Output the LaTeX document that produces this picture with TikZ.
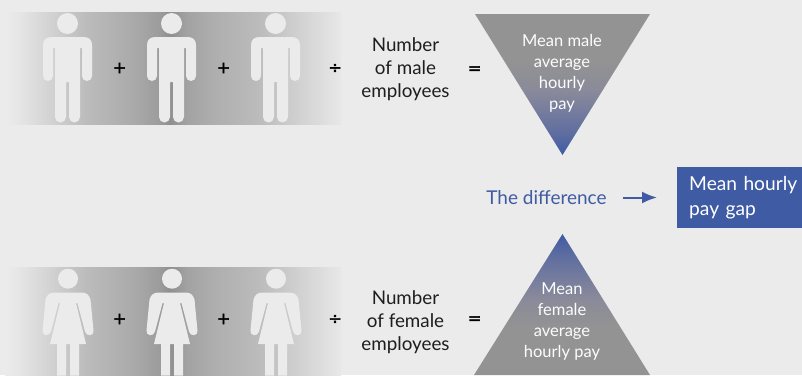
\documentclass[tikz,border=0pt]{standalone}
\usepackage{fontspec}
\usetikzlibrary{arrows.meta}
\setmainfont{Lato}
\newfontfamily\opfont[FakeBold=3]{DejaVu Sans}
\definecolor{bgc}{HTML}{EBEBEB}
\definecolor{blueC}{HTML}{3F5BA3}
\definecolor{greyC}{HTML}{939393}
\definecolor{inkC}{HTML}{1E1E1E}
\definecolor{ga}{HTML}{E6E6E6}
\definecolor{gb}{HTML}{CDCDCD}
\definecolor{gc}{HTML}{BCBCBC}
\definecolor{gd}{HTML}{AAAAAA}
\definecolor{ge}{HTML}{9C9C9C}
\definecolor{gf}{HTML}{8F8F8F}
\definecolor{gg}{HTML}{A2A2A2}
\definecolor{gh}{HTML}{AEAEAE}
\definecolor{gi}{HTML}{D2D2D2}
\definecolor{gj}{HTML}{E4E4E4}
\definecolor{gk}{HTML}{E8E8E8}
\definecolor{ma}{HTML}{5F6EA0}
\definecolor{mb}{HTML}{8A8A9A}
\pgfdeclarehorizontalshading{bandshade}{100bp}{
 color(0bp)=(bgc); color(25bp)=(bgc); color(27bp)=(ga); color(33bp)=(gb); color(37bp)=(gc); color(44bp)=(gd); color(48bp)=(ge); color(49.5bp)=(gf); color(52bp)=(gg); color(56bp)=(gh); color(63bp)=(gc); color(69bp)=(gi); color(74bp)=(gj); color(75bp)=(gk); color(100bp)=(gk)}
\pgfdeclareverticalshading{downtri}{100bp}{
 color(0bp)=(blueC); color(25bp)=(blueC); color(33bp)=(ma); color(48bp)=(mb); color(58bp)=(greyC); color(75bp)=(greyC); color(100bp)=(greyC)}
\pgfdeclareverticalshading{uptri}{100bp}{
 color(0bp)=(greyC); color(25bp)=(greyC); color(42bp)=(greyC); color(52bp)=(mb); color(67bp)=(ma); color(75bp)=(blueC); color(100bp)=(blueC)}
\tikzset{
 lab/.style={text=inkC,font=\fontsize{18.8}{23}\selectfont,align=center,inner sep=0pt},
 tri/.style={text=white!92!bgc,font=\fontsize{16.5}{21}\selectfont,align=center,inner sep=0pt},
 op/.style={text=black,font=\opfont\fontsize{16}{16}\selectfont,inner sep=0pt},
 fig/.style={fill=bgc,draw=none},
 pics/manfig/.style={code={
  \fill[fig] (0,-13.5) circle (10.5);
  \fill[fig] (-16,0) .. controls (-21.5,0) and (-24.5,3) .. (-24.5,8) -- (-24.5,39)
   arc[start angle=180,end angle=0,radius=5] -- (-14.5,11) -- (-12.5,11) -- (-12.5,80)
   arc[start angle=180,end angle=0,radius=5.5] -- (-1.5,45) -- (1.5,45) -- (1.5,80)
   arc[start angle=180,end angle=0,radius=5.5] -- (12.5,11) -- (14.5,11) -- (14.5,39)
   arc[start angle=180,end angle=0,radius=5] -- (24.5,8) .. controls (24.5,3) and (21.5,0) .. (16,0) -- cycle;
 }},
 pics/womanfig/.style={code={
  \fill[fig] (0,-13.8) circle (10);
  \fill[fig] (-14,0) .. controls (-18.5,0) and (-21.5,3) .. (-22.5,7) -- (-25.5,38)
   .. controls (-26.5,43.5) and (-18,44.5) .. (-17,39) -- (-9.4,10.5) -- (-8,10.5) -- (-18,51.5) -- (-11,51.5) -- (-11,83) -- (-2,83) -- (-2,51.5)
   -- (2,51.5) -- (2,83) -- (11,83) -- (11,51.5) -- (18,51.5) -- (8,10.5) -- (9.4,10.5) -- (17,39)
   .. controls (18,44.5) and (26.5,43.5) .. (25.5,38) -- (22.5,7) .. controls (21.5,3) and (18.5,0) .. (14,0) -- cycle;
 }}
}
\begin{document}
\begin{tikzpicture}[x=1pt,y=-1pt]
\useasboundingbox (0,0) rectangle (802,375);
\fill[bgc] (0,0) rectangle (802,375);
% bands
\shade[shading=bandshade] (5,12) rectangle (341,124);
\shade[shading=bandshade] (5,267) rectangle (341,375);
% men
\pic at (67.5,37) {manfig};
\pic at (171.5,37) {manfig};
\pic at (275.5,37) {manfig};
% women
\begin{scope}
\clip (0,0) rectangle (802,375);
\pic at (68,292.5) {womanfig};
\pic at (172,292.5) {womanfig};
\pic at (276,292.5) {womanfig};
\end{scope}
% operators
\node[op] (p1) at (119.5,68) {+};
\node[op] (p2) at (223.5,68) {+};
\node[op] (d1) at (335,68.5) {÷};
\node[op] (p3) at (119.5,319) {+};
\node[op] (p4) at (223.5,319) {+};
\node[op] (d2) at (335,319.5) {÷};
\node[op] (e1) at (474.5,70) {=};
\node[op] (e2) at (474.5,320) {=};
% labels
\node[lab] (nm) at (405.5,69) {Number\\of male\\employees};
\node[lab] (nf) at (405.5,322) {Number\\of female\\employees};
% triangles
\shade[shading=downtri] (475,14) -- (650,14) -- (562.5,155) -- cycle;
\shade[shading=uptri] (562.5,234) -- (650,375) -- (474,375) -- cycle;
\node[tri] (tm) at (562,73) {Mean male\\average\\hourly\\pay};
\node[tri] (tf) at (562,321.5) {Mean\\female\\average\\hourly pay};
% difference
\node[text=blueC,font=\fontsize{19}{23}\selectfont,inner sep=0pt] (diff) at (546.5,197.5) {The difference};
\node[fill=blueC,text=white,font=\fontsize{19.2}{25}\selectfont,align=left,minimum height=61pt,inner ysep=0pt,inner xsep=3pt,anchor=north west,text width=119pt] (gap) at (677,167) {\hspace*{9pt}Mean hourly\\\hspace*{9pt}pay gap};
\draw[blueC,line width=2pt,-{Latex[length=15pt,width=12pt]},shorten <=16pt,shorten >=20pt] (diff.east) -- (diff.east -| gap.west);
\end{tikzpicture}
\end{document}
